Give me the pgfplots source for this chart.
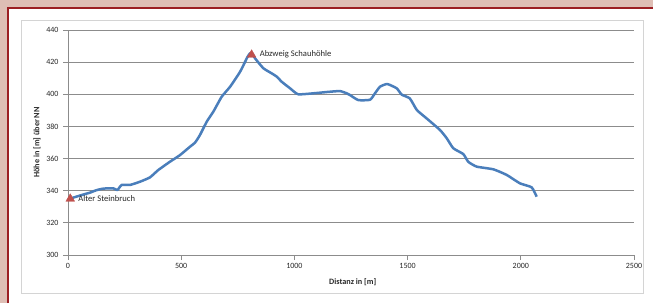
\documentclass[border=0pt]{standalone}
\usepackage{pgfplots}
\pgfplotsset{compat=1.18}
\usepackage{fontspec}
\setmainfont{Carlito}
\definecolor{bgpink}{RGB}{222,190,181}
\definecolor{framered}{RGB}{155,30,35}
\definecolor{boxgray}{RGB}{212,212,212}
\definecolor{gridgray}{RGB}{140,140,140}
\definecolor{lineblue}{RGB}{74,126,187}
\definecolor{mred}{RGB}{192,80,77}
\definecolor{txt}{RGB}{40,40,40}
\begin{document}
\begin{tikzpicture}[x=1pt,y=1pt]
\useasboundingbox (0,0) rectangle (653,303);
\fill[bgpink] (0,0) rectangle (653,303);
\fill[white] (9,0) rectangle (653,294);
\draw[framered,line width=2pt] (8,0) -- (8,295) -- (653,295);
\draw[boxgray,line width=0.9pt] (21,10) rectangle (643,283);
\begin{axis}[
  at={(68pt,48pt)}, anchor=south west,
  scale only axis, width=566pt, height=225pt,
  xmin=0, xmax=2500, ymin=300, ymax=440,
  xtick={0,500,1000,1500,2000,2500},
  ytick={300,320,...,440},
  axis x line*=bottom, axis y line*=left,
  axis line style={gridgray, line width=0.8pt, -},
  ymajorgrids, major grid style={gridgray, line width=0.9pt},
  tick align=outside, major tick length=5pt,
  tick style={gridgray, line width=0.8pt},
  /pgf/number format/assume math mode=true,
  /pgf/number format/1000 sep={},
  tick label style={font=\fontsize{8}{9.5}\selectfont, text=txt},
  yticklabel style={xshift=-1pt},
  xlabel={Distanz in [m]},
  ylabel={Höhe in [m] über NN},
  xlabel style={at={(axis description cs:0.503,-0.12)}, anchor=center, font=\bfseries\fontsize{8.2}{9.5}\selectfont, text=txt},
  ylabel style={at={(axis description cs:-0.055,0.5)}, anchor=center, rotate=0, font=\bfseries\fontsize{8.2}{9.5}\selectfont, text=txt},
  clip=false,
]
\addplot[lineblue, line width=2.5pt, line join=round, smooth, tension=0.3] coordinates {
(10,335.3) (23,335.7) (60,337.3) (97,338.8) (125,340.3) (156,341.3) (200,341.5) (218,340.4) (237,343.6) (274,343.6)
(318,345.6) (362,348.3) (399,352.9) (450,358) (495,362.2) (539,367.4) (561,369.9) (583,374.7)
(613,383) (642,389.2) (679,398.5) (716,404.7) (760,414) (792,423) (804,425.5) (815,425)
(826,422.4) (863,416.2) (900,413) (922,411) (944,407.8) (981,403.7) (1017,400) (1098,400.8)
(1150,401.5) (1201,402) (1231,400.6) (1245,399.6) (1282,396.4) (1334,396.6) (1356,400.6) (1378,404.7)
(1410,406.4) (1452,403.7) (1474,399.8) (1510,397.4) (1541,390.2) (1584,385) (1643,377.8) (1673,372.6)
(1702,366.4) (1746,362.8) (1768,358) (1805,355) (1879,353.3) (1938,349.8) (1996,344.6) (2048,342.1) (2070,336.3)
};
\addplot[only marks, mark=triangle*, mark size=5pt, color=mred,
  nodes near coords, point meta=explicit symbolic,
  nodes near coords style={anchor=west, inner sep=0pt, xshift=8pt, text=txt, font=\fontsize{8.6}{10}\selectfont}]
  coordinates {(10,335)[Alter Steinbruch] (811,424.6)[Abzweig Schauhöhle]};
\end{axis}
\end{tikzpicture}
\end{document}
